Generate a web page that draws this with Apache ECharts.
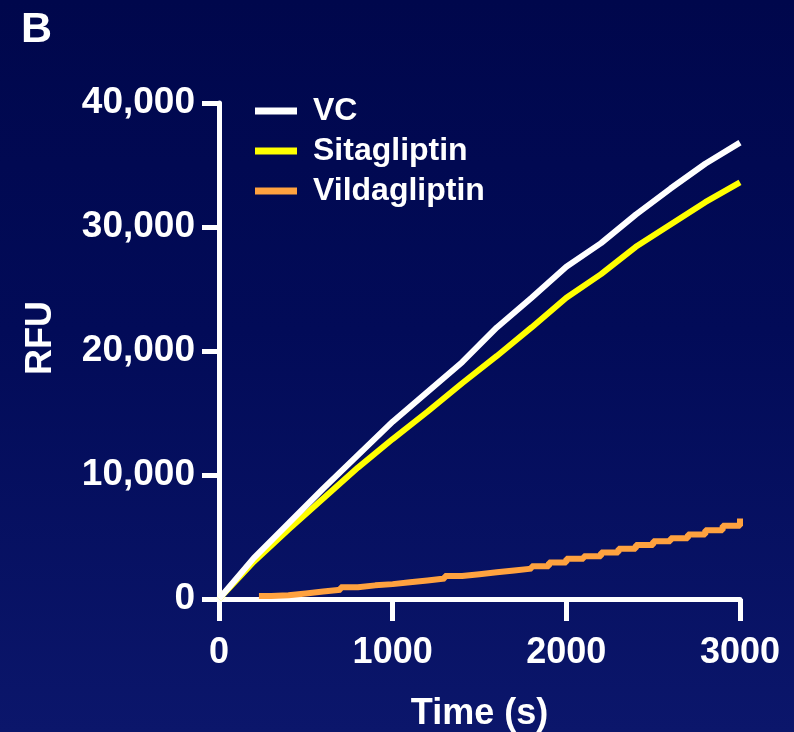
<!DOCTYPE html>
<html>
<head>
<meta charset="utf-8">
<script src="https://cdn.jsdelivr.net/npm/echarts@6/dist/echarts.min.js"></script>
<style>
  html, body { margin: 0; padding: 0; }
  body { width: 794px; height: 732px; background: linear-gradient(to bottom, #00074c 0%, #020b58 45%, #0b166b 100%); }
  #chart { width: 794px; height: 732px; }
</style>
</head>
<body>
<div id="chart"></div>
<script>
// ---- data ----
const panelLabel = 'B';
const seriesNames = ['VC', 'Sitagliptin', 'Vildagliptin'];
const xTicks = [0, 1000, 2000, 3000];
const yTicks = [0, 10000, 20000, 30000, 40000];

const timeMain = [0, 200, 400, 600, 800, 1000, 1200, 1400, 1600, 1800, 2000, 2200, 2400, 2600, 2800, 3000];
const vcValues = [0, 3300, 6100, 8900, 11600, 14300, 16700, 19100, 21900, 24300, 26800, 28700, 31000, 33100, 35100, 36800];
const sitaValues = [0, 3000, 5600, 8100, 10600, 12900, 15100, 17400, 19600, 21900, 24300, 26200, 28400, 30200, 32000, 33600];

const timeVilda = [230, 300, 400, 500, 600, 700, 800, 900, 1000, 1100, 1200, 1300, 1400, 1500, 1600, 1700, 1800, 1900, 2000, 2100, 2200, 2300, 2400, 2500, 2600, 2700, 2800, 2900, 3000];
const vildaValues = [250, 300, 450, 600, 750, 950, 1100, 1200, 1350, 1500, 1650, 1850, 2000, 2150, 2300, 2450, 2650, 2950, 3250, 3450, 3750, 4050, 4350, 4650, 4900, 5200, 5550, 5900, 6500];

const colors = { 'VC': '#ffffff', 'Sitagliptin': '#ffff00', 'Vildagliptin': '#ffa23f' };

function pairs(xs, ys) { return xs.map((x, i) => [x, ys[i]]); }

const FONT = '"Liberation Sans", Arial, sans-serif';
const chart = echarts.init(document.getElementById('chart'), null, { renderer: 'canvas' });

const axisLineStyle = { color: '#ffffff', width: 5 };

chart.setOption({
  backgroundColor: 'transparent',
  animation: false,
  textStyle: { fontFamily: FONT },
  title: {
    text: panelLabel,
    left: 16, top: 4,
    textStyle: { color: '#ffffff', fontSize: 43, fontWeight: 'bold', fontFamily: FONT }
  },
  legend: {
    orient: 'vertical',
    left: 250, top: 90,
    itemWidth: 42, itemHeight: 7,
    itemGap: 8,
    icon: 'rect',
    data: seriesNames,
    textStyle: { color: '#ffffff', fontSize: 32, fontWeight: 'bold', fontFamily: FONT, lineHeight: 32, padding: [0, 0, 0, 11] }
  },
  grid: { left: 219, right: 54, top: 103, bottom: 133, containLabel: false, outerBoundsMode: 'none' },
  xAxis: {
    type: 'value',
    min: xTicks[0], max: xTicks[xTicks.length - 1], interval: 1000,
    name: 'Time (s)', nameLocation: 'middle', nameGap: 97,
    nameTextStyle: { color: '#ffffff', fontSize: 36, fontWeight: 'bold', fontFamily: FONT },
    axisLine: { show: true, onZero: false, lineStyle: axisLineStyle },
    axisTick: { show: true, length: 22, lineStyle: axisLineStyle },
    axisLabel: { color: '#ffffff', fontSize: 36, fontWeight: 'bold', fontFamily: FONT, margin: 36, formatter: v => String(v) },
    splitLine: { show: false }
  },
  yAxis: {
    type: 'value',
    min: yTicks[0], max: yTicks[yTicks.length - 1], interval: 10000,
    name: 'RFU', nameLocation: 'middle', nameGap: 160,
    nameTextStyle: { color: '#ffffff', fontSize: 36, fontWeight: 'bold', fontFamily: FONT, padding: [0, 0, 0, 26] },
    axisLine: { show: true, onZero: false, lineStyle: axisLineStyle },
    axisTick: { show: true, length: 17, lineStyle: axisLineStyle },
    axisLabel: {
      color: '#ffffff', fontSize: 37, fontWeight: 'bold', fontFamily: FONT, margin: 24,
      formatter: v => v.toLocaleString('en-US')
    },
    splitLine: { show: false }
  },
  series: [
    {
      name: 'Vildagliptin', type: 'line', data: pairs(timeVilda, vildaValues),
      step: 'end', showSymbol: false, symbol: 'none',
      lineStyle: { color: colors['Vildagliptin'], width: 6 }, itemStyle: { color: colors['Vildagliptin'] }, z: 2
    },
    {
      name: 'Sitagliptin', type: 'line', data: pairs(timeMain, sitaValues),
      showSymbol: false, symbol: 'none',
      lineStyle: { color: colors['Sitagliptin'], width: 6 }, itemStyle: { color: colors['Sitagliptin'] }, z: 3
    },
    {
      name: 'VC', type: 'line', data: pairs(timeMain, vcValues),
      showSymbol: false, symbol: 'none',
      lineStyle: { color: colors['VC'], width: 6 }, itemStyle: { color: colors['VC'] }, z: 4
    }
  ]
});
</script>
</body>
</html>
